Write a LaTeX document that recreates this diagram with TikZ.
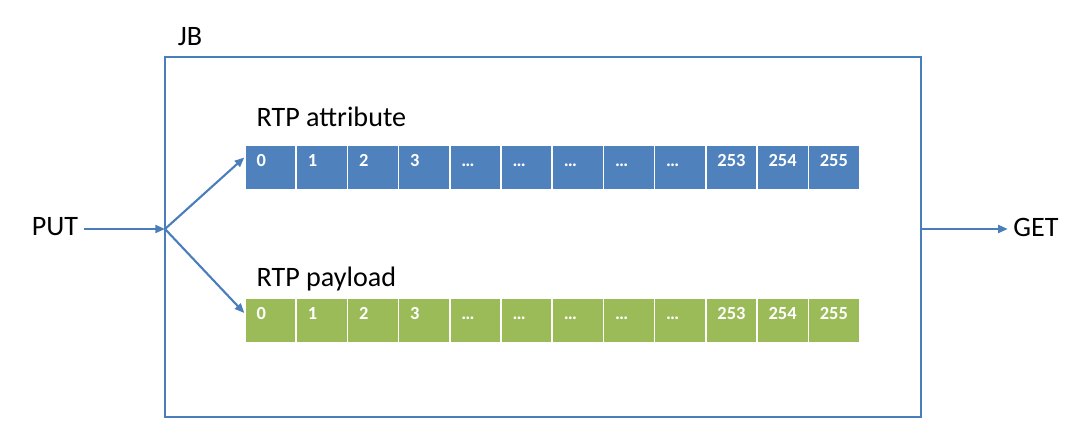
\documentclass[tikz,border=0pt]{standalone}
\usepackage{fontspec}
\setmainfont{Carlito}
\usetikzlibrary{positioning,arrows.meta}
\definecolor{jbline}{HTML}{4A7EBB}
\definecolor{attrblue}{HTML}{4F81BD}
\definecolor{payloadgreen}{HTML}{9BBB59}

\begin{document}
\begin{tikzpicture}[x=0.02cm,y=-0.02cm,
  flow/.style={draw=jbline, line width=1.2pt, -{Triangle[length=5.5pt,width=4.5pt]}},
  cell/.style={draw=white, line width=0.8pt, minimum width=1.024cm, minimum height=0.9cm,
    inner sep=0pt, text width=0.56cm, align=left, text=white,
    font=\fontsize{10.5}{12}\selectfont\bfseries, text height=6pt, text depth=7.7pt},
  textlabel/.style={font=\fontsize{16}{19}\selectfont, inner sep=3pt}]
\useasboundingbox (0,0) rectangle (1092,439);

\node[draw=jbline, line width=1.2pt, minimum width=15.12cm, minimum height=7.2cm] (jb) at (543,237) {};
\node[textlabel] (jbname) at (190,37) {JB};

\node[textlabel, anchor=west] (attrname) at (251,117) {RTP attribute};
\node[textlabel, anchor=west] (payloadname) at (251,279) {RTP payload};

\foreach \n [count=\i from 0] in {0,1,2,3,\dots,\dots,\dots,\dots,\dots,253,254,255} {
  \node[cell, fill=attrblue] (a\i) at (270.6+51.2*\i,167.5) {\n};
  \node[cell, fill=payloadgreen] (p\i) at (270.6+51.2*\i,320.5) {\n};
}

\node[textlabel] (put) at (55,227) {PUT};
\node[textlabel] (get) at (1036,227) {GET};
\coordinate (split) at (165,229);
\coordinate (merge) at (921,229);

\draw[flow] (put.east |- split) -- (split);
\draw[flow] (split) -- ([yshift=0.2cm]a0.west);
\draw[flow] (split) -- ([yshift=0.15cm]p0.west);
\draw[flow] (merge) -- (get.west |- merge);
\end{tikzpicture}
\end{document}
